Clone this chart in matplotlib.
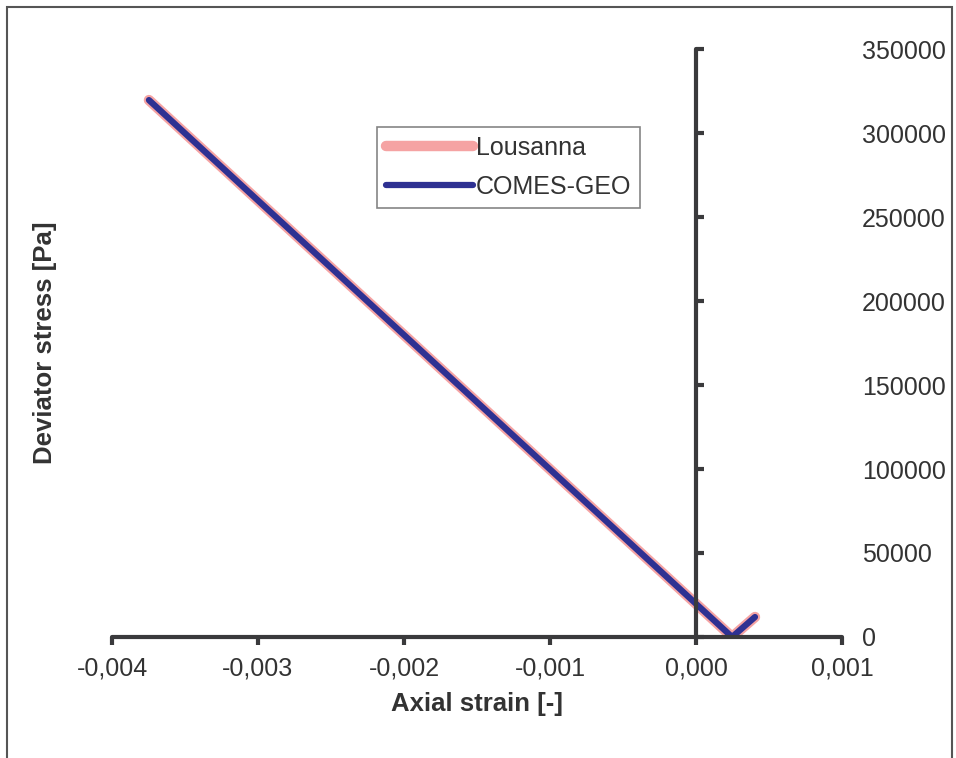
import matplotlib.pyplot as plt
from matplotlib.patches import Rectangle
from matplotlib.ticker import FuncFormatter

plt.rcParams['font.family'] = ['Liberation Sans', 'DejaVu Sans']

# Data
strain_lousanna = [-0.003747, 0.000247, 0.000404]
stress_lousanna = [319600, 0, 11900]
strain_comes = [-0.003747, 0.000247, 0.000404]
stress_comes = [319600, 0, 11900]

x_ticks = [-0.004, -0.003, -0.002, -0.001, 0.000, 0.001]
y_ticks = [0, 50000, 100000, 150000, 200000, 250000, 300000, 350000]

axis_col = '#3a3a3c'
text_col = '#333333'

fig = plt.figure(figsize=(9.56, 7.58), dpi=100)
ax = fig.add_axes([112/956, 1-637/758, 730/956, 588/758])

ax.plot(strain_lousanna, stress_lousanna, color='#f5a3a3', lw=7.5,
        solid_capstyle='round', solid_joinstyle='round', label='Lousanna')
ax.plot(strain_comes, stress_comes, color='#2e3192', lw=4.5,
        solid_capstyle='round', solid_joinstyle='round', label='COMES-GEO')

ax.set_xlim(-0.004, 0.001)
ax.set_ylim(0, 350000)
ax.set_xticks(x_ticks)
ax.set_yticks(y_ticks)
ax.xaxis.set_major_formatter(FuncFormatter(lambda v, p: f'{v:.3f}'.replace('.', ',').replace('-0,000', '0,000')))

for s in ['top', 'right']:
    ax.spines[s].set_visible(False)
ax.spines['left'].set_position(('data', 0))
for s in ['left', 'bottom']:
    ax.spines[s].set_color(axis_col)
    ax.spines[s].set_linewidth(3)
    ax.spines[s].set_capstyle('round')

ax.tick_params(axis='x', direction='out', length=6, width=3, color=axis_col,
               labelsize=18, labelcolor=text_col, pad=8)
ax.tick_params(axis='y', direction='in', length=6, width=3, color=axis_col,
               labelleft=False)

# y tick labels placed at the right of the plot area
ax2 = ax.twinx()
ax2.set_ylim(ax.get_ylim())
ax2.set_yticks(y_ticks)
ax2.set_yticklabels([str(v) for v in y_ticks])
for s in ax2.spines.values():
    s.set_visible(False)
ax2.tick_params(axis='y', length=0, pad=14.5, labelsize=18, labelcolor=text_col)

ax.set_xlabel('Axial strain [-]', fontsize=18.5, fontweight='bold', color=text_col, labelpad=8)
fig.text(45/956, 1-343/758, 'Deviator stress [Pa]', rotation=90, fontsize=18.5,
         fontweight='bold', color=text_col, ha='center', va='center')

leg = ax.legend(loc='upper left', bbox_to_anchor=((377-112)/730, (637-127)/588),
                fontsize=18, frameon=True, fancybox=False, borderaxespad=0,
                handlelength=3.5, handletextpad=0.1, borderpad=0.35,
                labelspacing=0.6, labelcolor=text_col)
leg.get_frame().set_edgecolor('#666666')
leg.get_frame().set_linewidth(1.2)

fig.patches.append(Rectangle((7/956, -0.05), 945/956, 1.05 - 7/758,
                             transform=fig.transFigure, fill=False,
                             edgecolor='#555555', lw=1.5))

fig.savefig('out.png', dpi=100)
